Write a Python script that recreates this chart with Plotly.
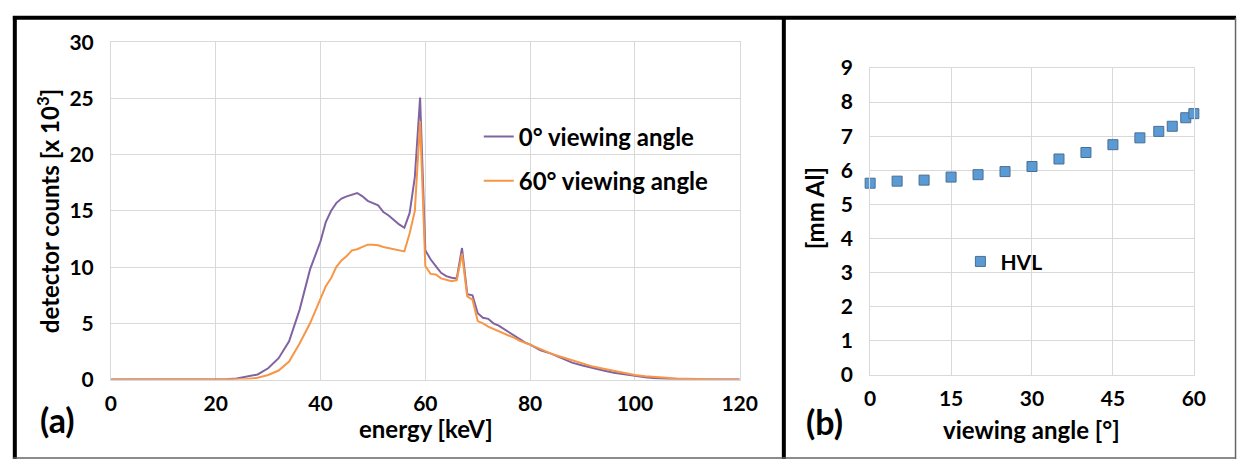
import plotly.graph_objects as go

# ---- Data: panel (a) spectra (energy in keV, counts in thousands) ----
energy_0 = [0, 20, 22, 24, 26, 28, 30, 32, 34, 36, 38, 40, 41, 42, 43, 44, 45, 46, 47, 48, 49, 50,
            51, 52, 53, 54, 55, 56, 57, 58, 59, 60, 61, 62, 63, 64, 65, 66, 67, 68, 69, 70, 71, 72,
            73, 74, 75, 76, 77, 78, 79, 80, 82, 84, 86, 88, 90, 92, 94, 96, 98, 100, 102, 104, 106,
            108, 120]
counts_0 = [0, 0, 0.02, 0.1, 0.25, 0.45, 1.0, 1.9, 3.4, 6.2, 9.8, 12.3, 14.0, 15.0, 15.7, 16.1, 16.3,
            16.45, 16.6, 16.3, 15.9, 15.7, 15.5, 14.9, 14.6, 14.2, 13.8, 13.5, 14.8, 18.0, 25.1, 11.5,
            10.7, 10.1, 9.5, 9.2, 9.05, 9.0, 11.7, 7.6, 7.5, 5.9, 5.5, 5.4, 5.0, 4.8, 4.5, 4.2, 3.9,
            3.6, 3.3, 3.1, 2.6, 2.3, 1.9, 1.5, 1.25, 1.0, 0.8, 0.6, 0.45, 0.35, 0.2, 0.12, 0.05, 0.0, 0]

energy_60 = [0, 24, 26, 28, 30, 32, 34, 36, 38, 40, 41, 42, 43, 44, 45, 46, 47, 48, 49, 50, 51, 52,
             53, 54, 55, 56, 57, 58, 59, 60, 61, 62, 63, 64, 65, 66, 67, 68, 69, 70, 71, 72, 73, 74,
             75, 76, 77, 78, 79, 80, 82, 84, 86, 88, 90, 92, 94, 96, 98, 100, 102, 104, 106, 108,
             110, 112, 114, 116, 120]
counts_60 = [0, 0, 0.05, 0.15, 0.4, 0.8, 1.6, 3.2, 5.0, 7.2, 8.3, 9.0, 10.0, 10.6, 11.0, 11.5, 11.6,
             11.8, 12.0, 12.0, 11.95, 11.8, 11.7, 11.6, 11.5, 11.4, 13.0, 15.0, 23.0, 10.1, 9.4, 9.35,
             9.0, 8.9, 8.75, 8.85, 11.2, 7.4, 7.1, 5.2, 5.0, 4.7, 4.5, 4.35, 4.15, 3.9, 3.7, 3.45,
             3.3, 3.1, 2.7, 2.3, 2.0, 1.7, 1.4, 1.15, 0.95, 0.75, 0.55, 0.4, 0.3, 0.2, 0.15, 0.08,
             0.05, 0.04, 0.03, 0.0, 0]

# ---- Data: panel (b) half value layer ----
angle = [0, 5, 10, 15, 20, 25, 30, 35, 40, 45, 50, 53.5, 56, 58.5, 60]
hvl = [5.62, 5.68, 5.71, 5.80, 5.87, 5.96, 6.11, 6.33, 6.52, 6.75, 6.95, 7.14, 7.29, 7.54, 7.66]

xticks_a = [0, 20, 40, 60, 80, 100, 120]
yticks_a = [0, 5, 10, 15, 20, 25, 30]
xticks_b = [0, 15, 30, 45, 60]
yticks_b = list(range(0, 10))

W, H = 1255, 471
FONT = "Lato"

def px(x):
    return x / W

def py(y):
    return 1 - y / H

fig = go.Figure()
fig.add_trace(go.Scatter(x=energy_0, y=counts_0, mode="lines", name="0° viewing angle",
                         line=dict(color="#8064A2", width=2), legendgroup="a0", legend="legend"))
fig.add_trace(go.Scatter(x=energy_60, y=counts_60, mode="lines", name="60° viewing angle",
                         line=dict(color="#F79646", width=2), legendgroup="a60", legend="legend"))
fig.add_trace(go.Scatter(x=angle, y=hvl, mode="markers", name="HVL", xaxis="x2", yaxis="y2",
                         cliponaxis=False, legend="legend2",
                         marker=dict(symbol="square", size=10, color="#5B9BD5",
                                     line=dict(color="#4A6E91", width=1))))

grid = "#D9D9D9"
tickfont = dict(family=FONT, size=21, color="black", weight="bold")
axcommon = dict(showgrid=True, gridcolor=grid, gridwidth=1, showline=True, linecolor=grid,
                linewidth=1, mirror=True, zeroline=False, ticks="", tickfont=tickfont,
                fixedrange=True)

fig.update_layout(
    width=W, height=H, margin=dict(l=0, r=0, t=0, b=0),
    paper_bgcolor="white", plot_bgcolor="white",
    font=dict(family=FONT, color="black"),
    xaxis=dict(domain=[px(107), px(748)], range=[0, 120], tickvals=xticks_a,
               ticklabelstandoff=5, anchor="y", **axcommon),
    yaxis=dict(domain=[py(386), py(30)], range=[0, 30], tickvals=yticks_a,
               ticklabelstandoff=12, anchor="x", **axcommon),
    xaxis2=dict(domain=[px(881), px(1211)], range=[0, 60], tickvals=xticks_b,
                ticklabelstandoff=5, anchor="y2", **axcommon),
    yaxis2=dict(domain=[py(381), py(57)], range=[0, 9], tickvals=yticks_b,
                ticklabelstandoff=12, anchor="x2", **axcommon),
    legend=dict(x=px(482), y=py(106), xanchor="left", yanchor="top", bgcolor="rgba(0,0,0,0)",
                font=dict(family=FONT, size=24, color="black", weight="bold"),
                tracegroupgap=10, itemwidth=30),
    legend2=dict(x=px(973), y=py(240), xanchor="left", yanchor="top", bgcolor="rgba(0,0,0,0)",
                 font=dict(family=FONT, size=21, color="black", weight="bold")),
    showlegend=True,
)

ann_font = dict(family=FONT, size=24, color="black", weight="bold")
fig.add_annotation(x=px(428), y=py(438), xref="paper", yref="paper", text="energy [keV]",
                   showarrow=False, font=ann_font, xanchor="center", yanchor="middle")
fig.add_annotation(x=px(1045), y=py(439), xref="paper", yref="paper", text="viewing angle [°]",
                   showarrow=False, font=ann_font, xanchor="center", yanchor="middle")
fig.add_annotation(x=px(43), y=py(208), xref="paper", yref="paper",
                   text="detector counts [x 10<sup>3</sup>]", textangle=-90,
                   showarrow=False, font=ann_font, xanchor="center", yanchor="middle")
fig.add_annotation(x=px(824), y=py(205), xref="paper", yref="paper", text="[mm Al]", textangle=-90,
                   showarrow=False, font=ann_font, xanchor="center", yanchor="middle")
big = dict(family=FONT, size=34, color="black", weight="bold")
fig.add_annotation(x=px(52), y=py(428), xref="paper", yref="paper", text="(a)",
                   showarrow=False, font=big, xanchor="center", yanchor="middle")
fig.add_annotation(x=px(834), y=py(430), xref="paper", yref="paper", text="(b)",
                   showarrow=False, font=big, xanchor="center", yanchor="middle")

# frame lines
fig.add_shape(type="line", xref="paper", yref="paper", x0=px(9), x1=px(9), y0=py(2), y1=py(470),
              line=dict(color="black", width=4))
fig.add_shape(type="line", xref="paper", yref="paper", x0=px(7), x1=px(1254), y0=py(4), y1=py(4),
              line=dict(color="black", width=4))
fig.add_shape(type="line", xref="paper", yref="paper", x0=px(793), x1=px(793), y0=py(2), y1=py(470),
              line=dict(color="black", width=4))
fig.add_shape(type="line", xref="paper", yref="paper", x0=px(1253.5), x1=px(1253.5), y0=py(4), y1=py(470),
              line=dict(color="#666666", width=1.5))
fig.add_shape(type="line", xref="paper", yref="paper", x0=px(7), x1=px(1254), y0=py(469), y1=py(469),
              line=dict(color="#666666", width=1.5))

fig.write_html("out.html")
